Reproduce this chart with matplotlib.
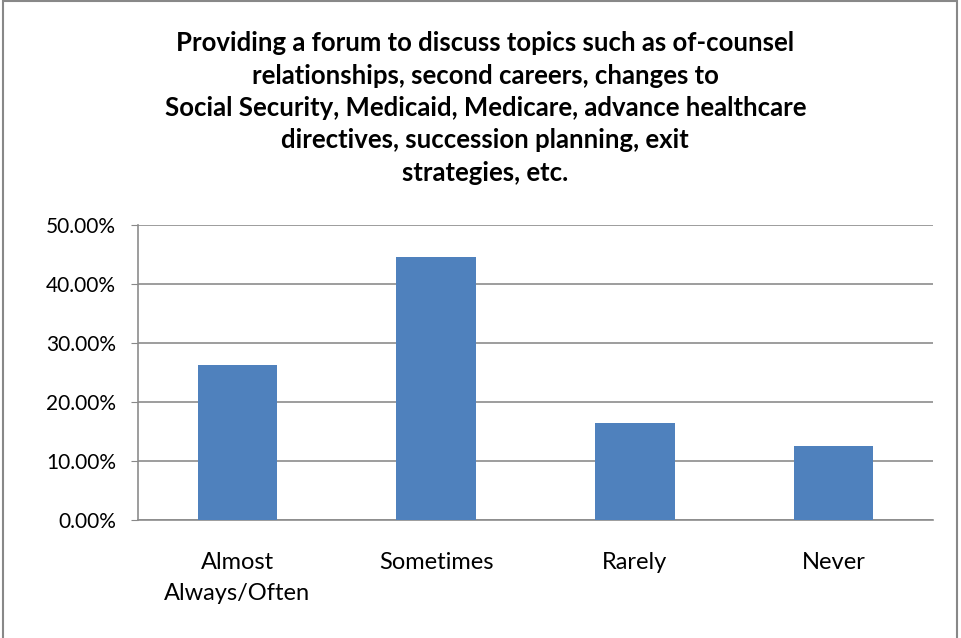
import matplotlib.pyplot as plt
import matplotlib.patches as patches
from matplotlib.ticker import FuncFormatter

# data
categories = ['Almost\nAlways/Often', 'Sometimes', 'Rarely', 'Never']
percentages = [26.2, 44.5, 16.4, 12.5]
title_lines = [
    'Providing a forum to discuss topics such as of-counsel',
    'relationships, second careers, changes to',
    'Social Security, Medicaid, Medicare, advance healthcare',
    'directives, succession planning, exit',
    'strategies, etc.',
]

plt.rcParams['font.family'] = ['Lato', 'DejaVu Sans']

fig = plt.figure(figsize=(9.61, 6.38), dpi=100)
ax = fig.add_axes([138 / 961, 1 - 520 / 638, (933 - 138) / 961, (520 - 225) / 638])

ax.bar(range(len(categories)), percentages, width=0.4, color='#4F81BD', zorder=3)

ax.set_xlim(-0.5, len(categories) - 0.5)
ax.set_ylim(0, 50)
ax.set_yticks([0, 10, 20, 30, 40, 50])
ax.yaxis.set_major_formatter(FuncFormatter(lambda v, p: f'{v:.2f}%'))
ax.set_xticks(range(len(categories)))
ax.set_xticklabels(categories, fontsize=17, linespacing=1.6)
ax.tick_params(axis='y', labelsize=15, length=5, color='#888888', pad=11)
ax.tick_params(axis='x', length=0, pad=23)

ax.grid(axis='y', color='#8c8c8c', linewidth=1.2, zorder=0)
for side in ['top', 'right']:
    ax.spines[side].set_visible(False)
for side in ['left', 'bottom']:
    ax.spines[side].set_color('#8c8c8c')
    ax.spines[side].set_linewidth(1.2)

fig.text(0.505, 1 - 108 / 638, '\n'.join(title_lines), ha='center', va='center',
         fontsize=18.5, fontweight='bold', linespacing=1.42)

# outer chart border
fig.patches.append(patches.Rectangle((3 / 961, -0.05), 954 / 961, 1.05 - 1.5 / 638,
                                     transform=fig.transFigure, fill=False,
                                     edgecolor='#888888', linewidth=1.5))

plt.savefig('out.png', dpi=100)
